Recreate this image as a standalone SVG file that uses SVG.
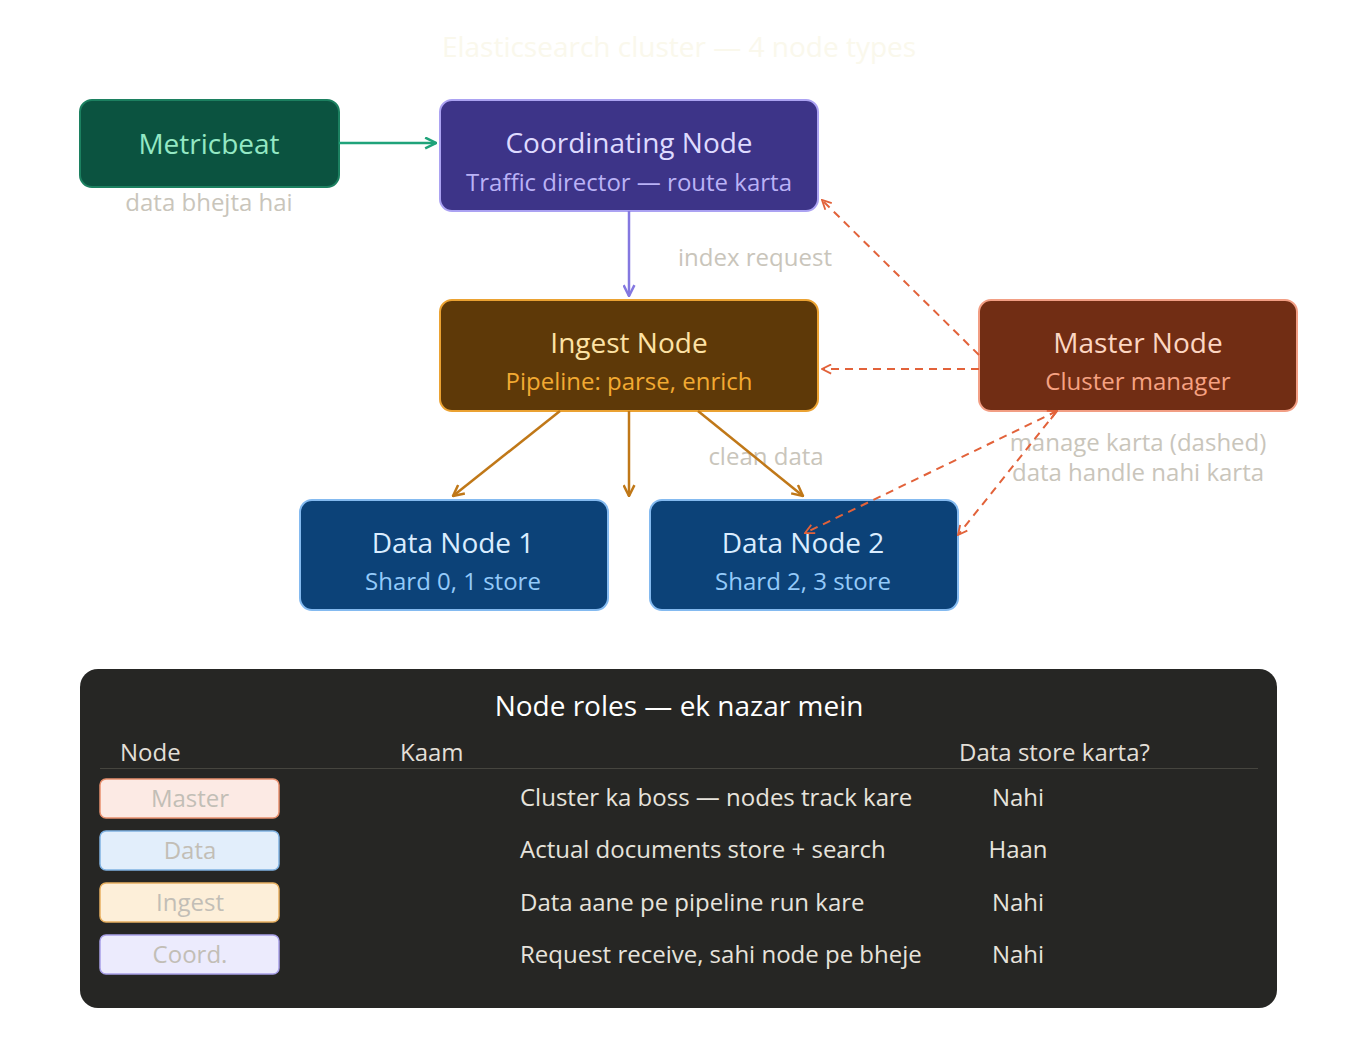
<svg xmlns="http://www.w3.org/2000/svg" width="1358" height="1039" viewBox="0 0 1358 1039">
<style>
text{font-family:"Open Sans","Noto Sans","DejaVu Sans",sans-serif;text-anchor:middle;dominant-baseline:central}
.t{font-size:28px}
.s{font-size:24px}
.lbl{font-size:24px;fill:#c9c5bb}
.edge{fill:none;stroke-width:2.5}
.dash{fill:none;stroke:#e2623a;stroke-width:2;stroke-dasharray:8 6}
.th{font-size:24px;fill:#e2dfd7;text-anchor:start}
.td{font-size:24px;fill:#e6e3dc;text-anchor:start}
.tv{font-size:24px;fill:#e6e3dc}
.bt{font-size:24px;fill:#c2beb6}
</style>
<defs>
<marker id="aG" viewBox="0 0 12 12" refX="11" refY="6" markerWidth="13" markerHeight="13" markerUnits="userSpaceOnUse" orient="auto"><path d="M1,1 L11,6 L1,11" fill="none" stroke="#1fa37a" stroke-width="2.3"/></marker>
<marker id="aP" viewBox="0 0 12 12" refX="11" refY="6" markerWidth="13" markerHeight="13" markerUnits="userSpaceOnUse" orient="auto"><path d="M1,1 L11,6 L1,11" fill="none" stroke="#8478e0" stroke-width="2.3"/></marker>
<marker id="aO" viewBox="0 0 12 12" refX="11" refY="6" markerWidth="13" markerHeight="13" markerUnits="userSpaceOnUse" orient="auto"><path d="M1,1 L11,6 L1,11" fill="none" stroke="#c07818" stroke-width="2.3"/></marker>
<marker id="aR" viewBox="0 0 12 12" refX="11" refY="6" markerWidth="11" markerHeight="11" markerUnits="userSpaceOnUse" orient="auto-start-reverse"><path d="M1,1 L11,6 L1,11" fill="none" stroke="#e2623a" stroke-width="2"/></marker>
</defs>
<rect width="1358" height="1039" fill="#ffffff"/>
<text x="679" y="46" class="t" fill="#faf8ec">Elasticsearch cluster — 4 node types</text>

<g id="metricbeat">
<rect x="80" y="100" width="259" height="87" rx="12" fill="#0b5340" stroke="#1c8060" stroke-width="2"/>
<text x="209" y="143" class="t" fill="#94e8c4">Metricbeat</text>
</g>
<g id="coordinating">
<rect x="440" y="100" width="378" height="111" rx="12" fill="#3d3488" stroke="#aba2f2" stroke-width="2"/>
<text x="629" y="142" class="t" fill="#dedaff">Coordinating Node</text>
<text x="629" y="181" class="s" fill="#bab2f6">Traffic director — route karta</text>
</g>
<g id="ingest">
<rect x="440" y="300" width="378" height="111" rx="12" fill="#5e3908" stroke="#eba232" stroke-width="2"/>
<text x="629" y="342" class="t" fill="#fde2a4">Ingest Node</text>
<text x="629" y="380" class="s" fill="#f2aa32">Pipeline: parse, enrich</text>
</g>
<g id="master">
<rect x="979" y="300" width="318" height="111" rx="12" fill="#712d14" stroke="#f29e84" stroke-width="2"/>
<text x="1138" y="342" class="t" fill="#fcd6c2">Master Node</text>
<text x="1138" y="380" class="s" fill="#f6a282">Cluster manager</text>
</g>
<g id="data1">
<rect x="300" y="500" width="308" height="110" rx="12" fill="#0c4278" stroke="#84baf0" stroke-width="2"/>
<text x="453" y="542" class="t" fill="#daedff">Data Node 1</text>
<text x="453" y="580" class="s" fill="#94cafa">Shard 0, 1 store</text>
</g>
<g id="data2">
<rect x="650" y="500" width="308" height="110" rx="12" fill="#0c4278" stroke="#84baf0" stroke-width="2"/>
<text x="803" y="542" class="t" fill="#daedff">Data Node 2</text>
<text x="803" y="580" class="s" fill="#94cafa">Shard 2, 3 store</text>
</g>

<g id="connectors">
<text x="209" y="201" class="lbl">data bhejta hai</text>
<text x="755" y="256" class="lbl">index request</text>
<text x="766" y="455" class="lbl">clean data</text>
<text x="1138" y="441" class="lbl">manage karta (dashed)</text>
<text x="1138" y="471" class="lbl">data handle nahi karta</text>
<line class="edge" x1="339" y1="143" x2="436" y2="143" stroke="#1fa37a" marker-end="url(#aG)"/>
<line class="edge" x1="629" y1="211" x2="629" y2="296" stroke="#8478e0" marker-end="url(#aP)"/>
<line class="edge" x1="560" y1="411" x2="453" y2="496" stroke="#c07818" marker-end="url(#aO)"/>
<line class="edge" x1="629" y1="411" x2="629" y2="496" stroke="#c07818" marker-end="url(#aO)"/>
<line class="edge" x1="698" y1="411" x2="803" y2="496" stroke="#c07818" marker-end="url(#aO)"/>
<line class="dash" x1="979" y1="355" x2="822" y2="200" marker-end="url(#aR)"/>
<line class="dash" x1="979" y1="369" x2="822" y2="369" marker-end="url(#aR)"/>
<line class="dash" x1="1057" y1="411" x2="805" y2="533" marker-start="url(#aR)" marker-end="url(#aR)"/>
<line class="dash" x1="1057" y1="411" x2="958" y2="535" marker-end="url(#aR)"/>
</g>

<g id="table">
<rect x="80" y="669" width="1197" height="339" rx="18" fill="#262624"/>
<text x="679" y="705" class="t" fill="#ffffff">Node roles — ek nazar mein</text>
<text x="120" y="751" class="th">Node</text>
<text x="400" y="751" class="th">Kaam</text>
<text x="959" y="751" class="th">Data store karta?</text>
<line x1="100" y1="768.5" x2="1258" y2="768.5" stroke="#46453f" stroke-width="1"/>
<rect x="100" y="779" width="179" height="39" rx="6" fill="#fceae4" stroke="#e8906e" stroke-width="1.5"/>
<text x="190" y="797" class="bt">Master</text>
<rect x="100" y="831" width="179" height="39" rx="6" fill="#e2eefb" stroke="#80b2e2" stroke-width="1.5"/>
<text x="190" y="849" class="bt">Data</text>
<rect x="100" y="883" width="179" height="39" rx="6" fill="#fdefd9" stroke="#e8b060" stroke-width="1.5"/>
<text x="190" y="901" class="bt">Ingest</text>
<rect x="100" y="935" width="179" height="39" rx="6" fill="#ecebfd" stroke="#a8a0e8" stroke-width="1.5"/>
<text x="190" y="953" class="bt">Coord.</text>
<text x="520" y="796" class="td">Cluster ka boss — nodes track kare</text>
<text x="520" y="848" class="td">Actual documents store + search</text>
<text x="520" y="901" class="td">Data aane pe pipeline run kare</text>
<text x="520" y="953" class="td">Request receive, sahi node pe bheje</text>
<text x="1018" y="796" class="tv">Nahi</text>
<text x="1018" y="848" class="tv">Haan</text>
<text x="1018" y="901" class="tv">Nahi</text>
<text x="1018" y="953" class="tv">Nahi</text>
</g>
</svg>
